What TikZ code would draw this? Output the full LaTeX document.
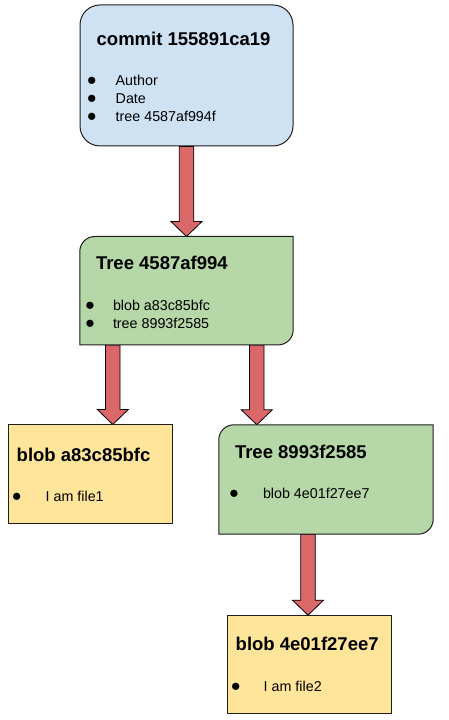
\documentclass[tikz,border=0pt]{standalone}
\usepackage{fontspec}
\setmainfont{Liberation Sans}
\usepackage{xcolor}
\usepackage{graphicx}
\usepackage{tikz}
\usetikzlibrary{positioning, calc, backgrounds}

\definecolor{commitblue}{HTML}{CFE2F3}
\definecolor{treegreen}{HTML}{B6D7A8}
\definecolor{blobyellow}{HTML}{FFE599}
\definecolor{pointerred}{HTML}{DA6868}
\definecolor{edgegray}{HTML}{1E1E1E}

\newcommand{\itemlist}[2]{\begin{tabular}[t]{@{}p{#1}@{}l@{}}#2\end{tabular}}
\newcommand{\dotmark}{\hspace*{-1pt}\scalebox{1.3}{$\bullet$}}

% block arrow straight down from #1 to the height of #2
\newcommand{\pointer}[2]{%
  \draw[pointer] let \p1=(#1), \p2=(#2) in
    (\x1-7.25pt,\y1) -- (\x1-7.25pt,\y2+15pt) -- (\x1-15.5pt,\y2+15pt) -- (\x1,\y2)
    -- (\x1+15.5pt,\y2+15pt) -- (\x1+7.25pt,\y2+15pt) -- (\x1+7.25pt,\y1) -- cycle;}

% outline round node #1, rounded top left and bottom right corners
\newcommand{\leafbox}[1]{%
  \draw[treeline] (#1.south west) -- ([yshift=-15pt]#1.north west)
    arc[start angle=180, end angle=90, radius=15pt] -- (#1.north east)
    -- ([yshift=15pt]#1.south east) arc[start angle=0, end angle=-90, radius=15pt] -- cycle;}

\begin{document}
\begin{tikzpicture}[
    x=1pt, y=1pt,
    commitbox/.style={rectangle, draw=edgegray, line width=1pt, fill=commitblue, rounded corners=20pt, minimum width=213pt, minimum height=141pt, inner sep=0pt},
    treebox/.style={rectangle, minimum width=213pt, minimum height=108pt, inner sep=0pt},
    treeline/.style={draw=edgegray, line width=1pt, fill=treegreen},
    blobbox/.style={rectangle, draw=edgegray, line width=1pt, fill=blobyellow, minimum width=164pt, minimum height=99pt, inner sep=0pt},
    boxtitle/.style={anchor=base west, inner sep=0pt, font=\fontsize{18.5}{22}\selectfont\bfseries},
    boxitems/.style={anchor=base west, inner sep=0pt, font=\fontsize{14.3}{18}\selectfont},
    pointer/.style={draw=black, line width=0.8pt, fill=pointerred, line join=miter}
]
    \useasboundingbox (0,0) rectangle (448,720);

    % Nodes
    \node[commitbox] (commit) at (186.5,644.5) {};
    \node[treebox, below=90pt of commit] (tree) {};
    \leafbox{tree}
    \node[blobbox] (blob1) at (90,245.5) {};
    \node[treebox, minimum width=214pt, minimum height=109pt] (subtree) at (326,240.5) {};
    \leafbox{subtree}
    \node[blobbox, minimum height=98pt, below=81pt of subtree, xshift=-17pt] (blob2) {};

    % Texts
    \node[boxtitle] (commit-title) at ([xshift=17pt, yshift=-40.7pt]commit.north west) {commit 155891ca19};
    \node[boxitems] (commit-list) at ([xshift=8.4pt, yshift=-80.7pt]commit.north west)
        {\itemlist{27.6pt}{\dotmark & Author\\ \dotmark & Date\\ \dotmark & tree 4587af994f}};
    \node[boxtitle] (tree-title) at ([xshift=16pt, yshift=-33.3pt]tree.north west) {Tree 4587af994};
    \node[boxitems] (tree-list) at ([xshift=6.4pt, yshift=-74pt]tree.north west)
        {\itemlist{26.6pt}{\dotmark & blob a83c85bfc\\ \dotmark & tree 8993f2585}};
    \node[boxtitle] (blob1-title) at ([xshift=9pt, yshift=-36.7pt]blob1.north west) {blob a83c85bfc};
    \node[boxitems] (blob1-list) at ([xshift=5.4pt, yshift=-77.3pt]blob1.north west)
        {\itemlist{32.6pt}{\dotmark & I am file1}};
    \node[boxtitle] (subtree-title) at ([xshift=16pt, yshift=-33.3pt]subtree.north west) {Tree 8993f2585};
    \node[boxitems] (subtree-list) at ([xshift=11.4pt, yshift=-73.3pt]subtree.north west)
        {\itemlist{32.6pt}{\dotmark & blob 4e01f27ee7}};
    \node[boxtitle] (blob2-title) at ([xshift=9pt, yshift=-35.7pt]blob2.north west) {blob 4e01f27ee7};
    \node[boxitems] (blob2-list) at ([xshift=5.4pt, yshift=-76.7pt]blob2.north west)
        {\itemlist{31.6pt}{\dotmark & I am file2}};

    % Arrows
    \begin{scope}[on background layer]
        \coordinate (tree-left) at ([xshift=33pt]tree.south west);
        \coordinate (tree-right) at ([xshift=177pt]tree.south west);
        \coordinate (subtree-out) at ([xshift=-18pt]subtree.south);
        \pointer{commit.south}{tree.north}
        \pointer{tree-left}{tree-left |- blob1.north}
        \pointer{tree-right}{tree-right |- subtree.north}
        \pointer{subtree-out}{subtree-out |- blob2.north}
    \end{scope}

\end{tikzpicture}
\end{document}
